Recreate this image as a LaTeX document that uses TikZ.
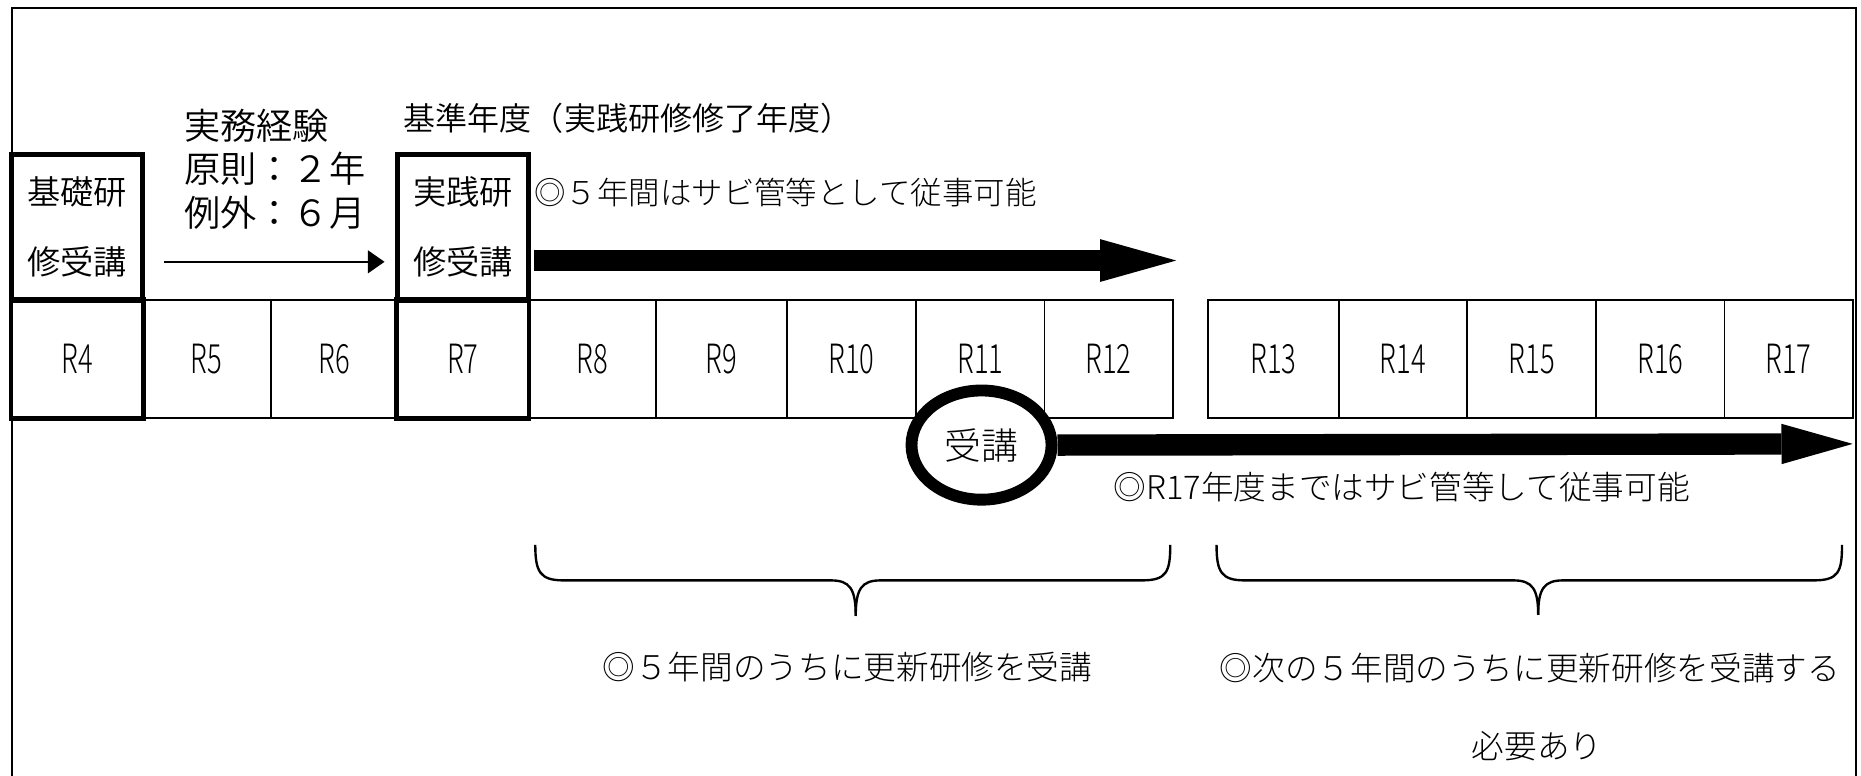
\documentclass[tikz,border=0pt]{standalone}
\usepackage{fontspec}
\IfFontExistsTF{Noto Sans CJK JP DemiLight}{%
  \setmainfont{Noto Sans CJK JP DemiLight}%
}{%
  \setmainfont{Noto Sans CJK JP}%
}
\IfFontExistsTF{Noto Sans CJK JP Light}{%
  \newfontfamily\lightjp{Noto Sans CJK JP Light}%
  \newfontfamily\rlab[FakeStretch=0.68]{Noto Sans CJK JP Light}%
}{%
  \newfontfamily\lightjp{Noto Sans CJK JP}%
  \newfontfamily\rlab[FakeStretch=0.68]{Noto Sans CJK JP}%
}
\usetikzlibrary{arrows.meta,shapes.geometric}
\tikzset{
  thin/.style={line width=1.6pt},
  boxline/.style={line width=4pt},
  cell/.style={draw, thin, inner sep=0pt, minimum height=99pt,
    font=\rlab\fontsize{34}{40}\selectfont},
  hdr/.style={inner sep=0pt, font=\fontsize{30.5}{36.5}\selectfont},
  lbl/.style={inner sep=0pt, font=\fontsize{27}{32}\selectfont},
  llbl/.style={inner sep=0pt, font=\lightjp\fontsize{27.5}{32}\selectfont},
  kbox/.style={draw, boxline, inner sep=0pt, minimum width=110pt, minimum height=123pt,
    align=center, font=\fontsize{28}{59}\selectfont},
  bigarrow/.style={line width=#1},
  brace/.style={line width=2pt},
}
\begin{document}
\begin{tikzpicture}[x=1pt,y=-1pt]
\useasboundingbox (0,0) rectangle (1568,653);
% outer frame
\draw[thin] (10,700) -- (10,7) -- (1564,7) -- (1564,700);

% year cells
\foreach \l/\r/\t in {10/120/R4,120/228/R5,228/335/R6,335/445/R7,445/553/R8,553/663/R9,663/772/R10,772/880/R11,880/988/R12,1018/1128/R13,1128/1236/R14,1236/1345/R15,1345/1453/R16,1453/1561/R17}{
  \pgfmathsetmacro\w{\r-\l}
  \node[cell, minimum width=\w pt] (\t) at ({(\l+\r)/2},302.5) {\t};
}
% thick boxes
\node[kbox] (kiso) at (65,191.5) {基礎研\\修受講};
\node[kbox] (jissen) at (390,191.5) {実践研\\修受講};
\draw[boxline] (R4.north west) rectangle (R4.south east);
\draw[boxline] (R7.north west) rectangle (R7.south east);

% header texts
\node[hdr, anchor=west, align=left] (keiken) at (155,142.5) {実務経験\\原則：２年\\例外：６月};
\node[lbl, anchor=west] (kijun) at (340,100) {基準年度（実践研修修了年度）};
\node[llbl, anchor=west, font=\lightjp\fontsize{26.5}{32}\selectfont] (juji1) at (450,162) {◎５年間はサビ管等として従事可能};

% thin arrow
\coordinate (a0s) at (138,220.6);
\coordinate (a0e) at (324,220.6);
\draw[line width=2pt, -{Triangle[length=14pt,width=19pt]}] (a0s) -- (a0e);

% thick arrow 1
\coordinate (a1s) at (450,219.5);
\coordinate (a1e) at (991,219.5);
\draw[bigarrow=18.5pt, -{Triangle[length=64pt,width=36pt,line width=0pt]}] (a1s) -- (a1e);

% ellipse and thick arrow 2
\node[ellipse, draw, line width=10pt, fill=white, minimum width=118pt, minimum height=92pt,
  inner sep=0pt, font=\lightjp\fontsize{31}{36}\selectfont] (juko) at (827,375) {\raisebox{-7pt}{受講}};
\coordinate (a2e) at (1561,374);
\draw[bigarrow=18pt, -{Triangle[length=60pt,width=34pt,line width=0pt]}] (juko.east) -- (a2e);
\node[llbl] (juji2) at (1181,410) {◎R17年度まではサビ管等して従事可能};

% braces
\draw[brace] (451,459) .. controls (451,482) and (455,489) .. (475,489) -- (700,489)
  .. controls (716,489) and (721,496) .. (721,519);
\draw[brace] (721,519) .. controls (721,496) and (726,489) .. (742,489) -- (962,489)
  .. controls (983,489) and (986,482) .. (986,459);
\draw[brace] (1025,459) .. controls (1025,482) and (1029,489) .. (1049,489) -- (1275,489)
  .. controls (1291,489) and (1296,496) .. (1296,518);
\draw[brace] (1296,518) .. controls (1296,496) and (1301,489) .. (1317,489) -- (1528,489)
  .. controls (1549,489) and (1552,482) .. (1552,459);

% bottom texts
\node[llbl] (koshin1) at (714,562) {◎５年間のうちに更新研修を受講};
\node[llbl] (koshin2) at (1289,563) {◎次の５年間のうちに更新研修を受講する};
\node[llbl] (hitsuyo) at (1295,629) {必要あり};
\end{tikzpicture}
\end{document}
